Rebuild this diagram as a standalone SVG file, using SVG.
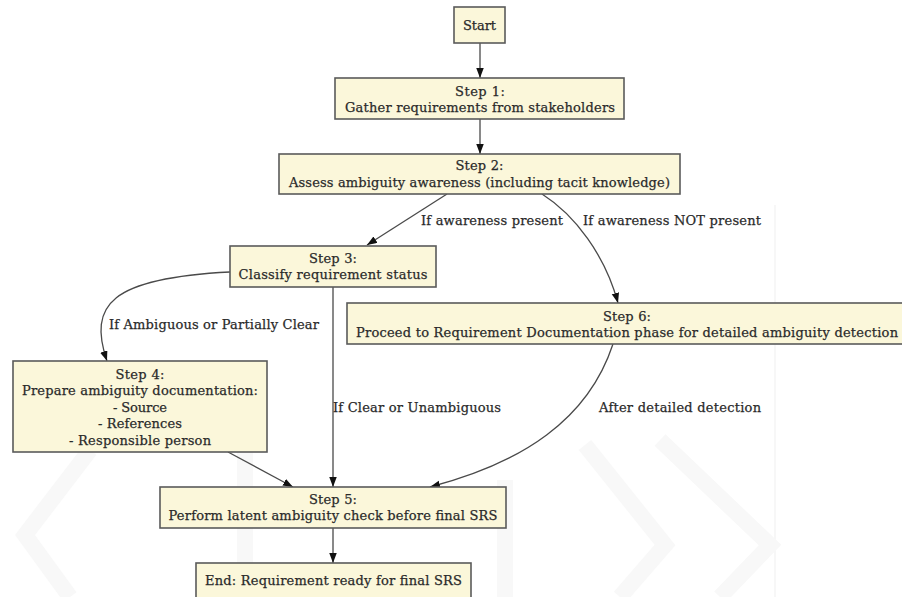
<svg xmlns="http://www.w3.org/2000/svg" width="902" height="597" viewBox="0 0 902 597">
  <defs>
    <marker id="arrow" markerUnits="userSpaceOnUse" markerWidth="11" markerHeight="8" refX="10" refY="3.75" orient="auto">
      <path d="M0,0 L10,3.75 L0,7.5 z" fill="#111"/>
    </marker>
    <style>
      .node rect { fill: #fbf7da; stroke: #5a5a5a; stroke-width: 1.6; }
      text { font-family: "DejaVu Serif", "Liberation Serif", serif; font-size: 13px; fill: #2a2a2a; stroke: #2a2a2a; stroke-width: 0.25; text-anchor: middle; }
      .lbl { text-anchor: start; }
      .edge { fill: none; stroke: #4a4a4a; stroke-width: 1.3; marker-end: url(#arrow); }
      .wm { fill: none; stroke: #f8f8f8; stroke-width: 16; stroke-linejoin: miter; }
    </style>
  </defs>

  <rect width="902" height="597" fill="#ffffff"/>

  <!-- faint background emblem -->
  <g id="emblem">
    <line x1="775" y1="205" x2="775" y2="597" stroke="#f5f5f5" stroke-width="1.5"/>
    <polyline class="wm" points="585,445 665,545 620,597"/>
    <polyline class="wm" points="660,440 770,545 720,597"/>
    <polyline class="wm" points="505,480 505,597"/>
    <polyline class="wm" points="245,445 245,597"/>
    <polyline class="wm" points="90,450 25,535 70,597"/>
  </g>

  <g id="connectors">
    <path class="edge" d="M480,43 L480,78"/>
    <path class="edge" d="M480,119 L480,154"/>
    <path class="edge" d="M447,194 L367,245"/>
    <path class="edge" d="M542,194 C575,215 605,255 618,303"/>
    <path class="edge" d="M230,272 C110,278 88,305 107,361"/>
    <path class="edge" d="M333,287 L333,487"/>
    <path class="edge" d="M228,452 L293,487"/>
    <path class="edge" d="M613,344 C588,420 522,463 430,487"/>
    <path class="edge" d="M333,528 L333,563"/>
    <text class="lbl" x="421" y="224.5" textLength="142">If awareness present</text>
    <text class="lbl" x="583" y="224.5" textLength="178">If awareness NOT present</text>
    <text class="lbl" x="109" y="328.5" textLength="210">If Ambiguous or Partially Clear</text>
    <text class="lbl" x="333" y="411.5" textLength="168">If Clear or Unambiguous</text>
    <text class="lbl" x="599" y="411.5" textLength="162">After detailed detection</text>
  </g>

  <g id="start" class="node">
    <rect x="454" y="7" width="51" height="36"/>
    <text x="479.5" y="29.5" textLength="33">Start</text>
  </g>

  <g id="step1" class="node">
    <rect x="335" y="78" width="289" height="41"/>
    <text x="480" y="95.5" textLength="50">Step 1:</text>
    <text x="480" y="111.5" textLength="270">Gather requirements from stakeholders</text>
  </g>

  <g id="step2" class="node">
    <rect x="279" y="154" width="401" height="40"/>
    <text x="479.5" y="170" textLength="48">Step 2:</text>
    <text x="479.5" y="186.5" textLength="381">Assess ambiguity awareness (including tacit knowledge)</text>
  </g>

  <g id="step3" class="node">
    <rect x="230" y="246" width="206" height="41"/>
    <text x="333" y="262.5" textLength="48">Step 3:</text>
    <text x="333" y="278.5" textLength="189">Classify requirement status</text>
  </g>

  <g id="step6" class="node">
    <rect x="347" y="303" width="562" height="41"/>
    <text x="627" y="320.5" textLength="48">Step 6:</text>
    <text x="627" y="336.5" textLength="542">Proceed to Requirement Documentation phase for detailed ambiguity detection</text>
  </g>

  <g id="step4" class="node">
    <rect x="13" y="361" width="254" height="91"/>
    <text x="140" y="378.5" textLength="49">Step 4:</text>
    <text x="140" y="394.5" textLength="236">Prepare ambiguity documentation:</text>
    <text x="140" y="411.5" textLength="54">- Source</text>
    <text x="140" y="427.5" textLength="84">- References</text>
    <text x="140" y="444.5" textLength="142">- Responsible person</text>
  </g>

  <g id="step5" class="node">
    <rect x="160" y="487" width="346" height="41"/>
    <text x="333" y="503.5" textLength="48">Step 5:</text>
    <text x="333" y="520" textLength="329">Perform latent ambiguity check before final SRS</text>
  </g>

  <g id="end" class="node">
    <rect x="196" y="563" width="275" height="40"/>
    <text x="333.5" y="584.5" textLength="257">End: Requirement ready for final SRS</text>
  </g>
</svg>
